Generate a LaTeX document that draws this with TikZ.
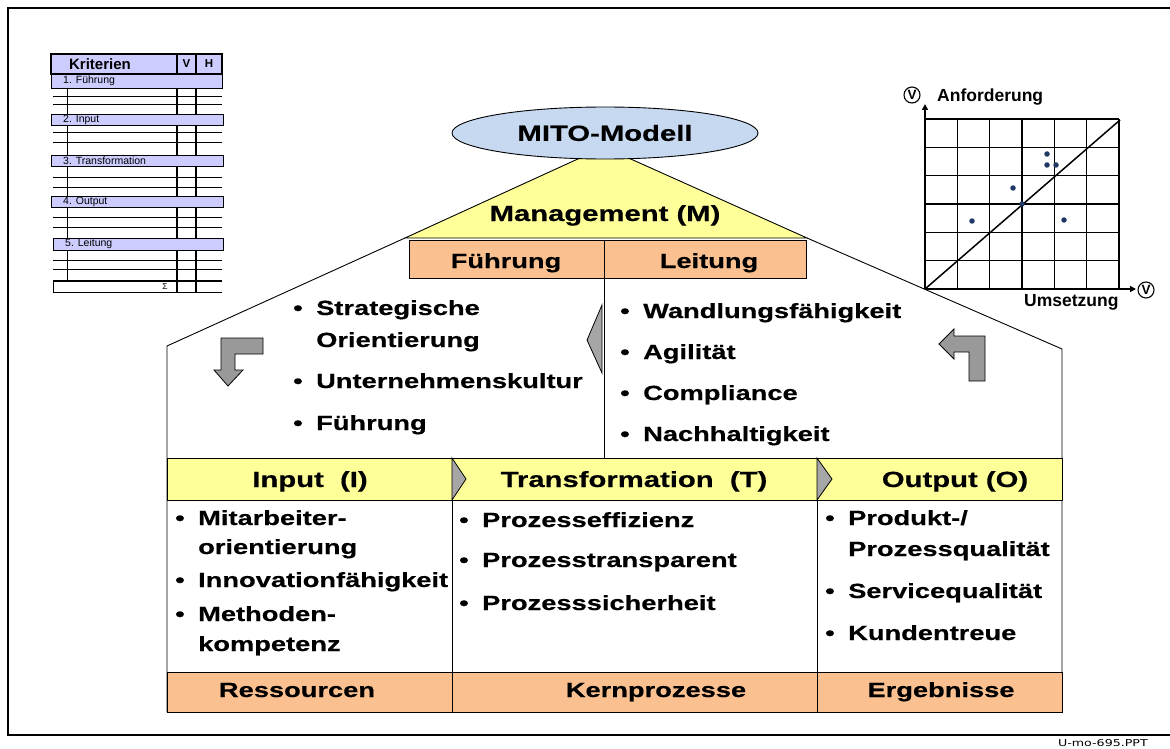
\documentclass[tikz,border=0pt]{standalone}
\usepackage{fontspec}
\setmainfont{Liberation Sans}
\newfontfamily\wb[FakeStretch=1.33,FakeBold=0.4]{Liberation Sans Bold}
\newfontfamily\dvw[FakeStretch=1.33]{DejaVu Sans}
\usetikzlibrary{arrows.meta,shapes.geometric}
\definecolor{myyel}{HTML}{FFFF99}
\definecolor{myorg}{HTML}{FAC090}
\definecolor{myblu}{HTML}{C6D9F1}
\definecolor{mylav}{HTML}{CCCCFF}
\definecolor{mygry}{HTML}{999999}
\definecolor{mychev}{HTML}{A6A6A6}
\definecolor{mydot}{HTML}{1F3864}
\newcommand{\mybul}{\makebox[23pt][l]{•}}
\newcommand{\myind}{\hspace*{23pt}}
\begin{document}
\begin{tikzpicture}[x=1pt,y=-1pt,line join=miter,
  thin line/.style={line width=0.9pt,draw=black},
  bl/.style={anchor=base west,inner sep=0pt,font=\wb\fontsize{20.5}{24}\selectfont},
  hd/.style={anchor=base,inner sep=0pt,font=\wb\fontsize{22}{26}\selectfont},
  sh/.style={anchor=base,inner sep=0pt,font=\wb\fontsize{20.5}{24}\selectfont},
  tb/.style={anchor=west,inner sep=0pt,font=\fontsize{10.5}{12}\selectfont},
  tbh/.style={anchor=center,inner sep=0pt,font=\bfseries\fontsize{15}{17}\selectfont},
  grd/.style={line width=1.1pt,draw=black},
  axis/.style={line width=1.8pt,-{Triangle[length=6pt,width=6pt]}},
  cv/.style={circle,draw,line width=1.1pt,inner sep=0pt,minimum size=16pt,font=\bfseries\fontsize{13.5}{14}\selectfont},
  chl/.style={anchor=base west,inner sep=0pt,font=\bfseries\fontsize{17.5}{20}\selectfont},
  dot/.style={circle,fill=mydot,inner sep=0pt,minimum size=5.5pt},
  gar/.style={fill=mygry,draw=black,line width=0.8pt},
  chev/.style={fill=mychev,draw=black,line width=0.8pt}
]
\useasboundingbox (0,0) rectangle (1170,749);
\clip (0,0) rectangle (1170,749);
\fill[white] (0,0) rectangle (1170,749);

% outer frame
\draw[line width=2.6pt] (1190,8) -- (8,8) -- (8,735) -- (1190,735);
\node[anchor=base east,inner sep=0pt,font=\dvw\fontsize{9.5}{10}\selectfont] (ref) at (1148,746) {U-mo-695.PPT};

% ---------- table top left ----------
\draw[line width=2pt] (177,54) -- (177,292) (196,54) -- (196,292);
\foreach \y in {97,105,133,143,177,187,217,227,260,269}
  \draw[line width=1pt] (53,\y) -- (222,\y);
\draw[line width=1.6pt] (53,281) -- (222,281);
\draw[line width=0.8pt] (53,292) -- (222,292) (53,281) -- (53,292);
\foreach \a/\b in {88/114,125/155,166/196,207/238,250/281}
  \draw[line width=1pt] (67,\a) -- (67,\b);
\filldraw[fill=mylav,line width=1.6pt] (51,54) rectangle (222,74);
\draw[line width=1.6pt] (177,54) -- (177,74) (196,54) -- (196,74);
\filldraw[fill=mylav,line width=0.8pt] (51,74) rectangle (222,88);
\filldraw[fill=mylav,line width=0.8pt] (51,114) rectangle (223,125);
\filldraw[fill=mylav,line width=0.8pt] (51,155) rectangle (223,166);
\filldraw[fill=mylav,line width=0.8pt] (51,196) rectangle (223,207);
\filldraw[fill=mylav,line width=0.8pt] (53,238) rectangle (223,250);
\node[tbh] (krit) at (100,64) {Kriterien};
\node[tbh,font=\bfseries\fontsize{11.5}{12}\selectfont] (colv) at (186.5,64) {V};
\node[tbh,font=\bfseries\fontsize{11.5}{12}\selectfont] (colh) at (209,64) {H};
\node[tb] (k1) at (63,81) {1. Führung};
\node[tb] (k2) at (63,119.5) {2. Input};
\node[tb] (k3) at (63,160.5) {3. Transformation};
\node[tb] (k4) at (63,201.5) {4. Output};
\node[tb] (k5) at (65,244) {5. Leitung};
\node[anchor=center,inner sep=0pt,font=\fontsize{8.5}{9}\selectfont] (sig) at (165,286.5) {Σ};

% ---------- chart top right ----------
\foreach \i in {1,...,6}
  \draw[grd] ({925+32.33*\i},119) -- ({925+32.33*\i},289);
\foreach \j in {0,...,5}
  \draw[grd] (925,{119+28.33*\j}) -- (1119,{119+28.33*\j});
\coordinate (O) at (925,289);
\coordinate (Ytip) at (925,104);
\coordinate (Xtip) at (1136,289);
\coordinate (Dend) at (1120,120);
\draw[line width=1.5pt] (O) -- (Dend);
\draw[axis] (O) -- (Ytip);
\draw[axis] (O) -- (Xtip);
\node[cv] (vy) at (912,95) {V};
\node[chl] (anf) at (937,101.5) {Anforderung};
\node[cv] (vx) at (1146,290) {V};
\node[chl] (ums) at (1024,306.5) {Umsetzung};
\foreach \p/\q [count=\k] in {1047/154,1047/165,1056/165,1013/188,1022/204,972/221,1064/220}
  \node[dot] (d\k) at (\p,\q) {};

% ---------- house ----------
\draw[thin line] (167,712) -- (167,346) -- (405,238);
\draw[thin line] (1062,712) -- (1062,349) -- (807,238);
\filldraw[fill=myyel,thin line] (604,147) -- (405,238) -- (807,238) -- cycle;
\node[ellipse,draw,line width=0.9pt,fill=myblu,minimum width=306pt,minimum height=52pt,inner sep=0pt,
      font=\wb\fontsize{22}{26}\selectfont] (mito) at (605,133) {MITO-Modell};
\node[hd] (mgmt) at (605,221) {Management (M)};

\filldraw[fill=myorg,thin line] (409,240) rectangle (806,278);
\draw[thin line] (604,240) -- (604,458);
\node[sh] (fuehr) at (506,268) {Führung};
\node[sh] (leit) at (709,268) {Leitung};

% bent arrows and pointer
\filldraw[gar] (263,338) -- (221,338) -- (221,370) -- (214,370) -- (228,386) -- (243,370) -- (235,370) -- (235,354) -- (263,354) -- cycle;
\filldraw[gar] (985,381) -- (985,336) -- (954,336) -- (954,329) -- (939,344) -- (954,359) -- (954,352) -- (969,352) -- (969,381) -- cycle;
\filldraw[chev] (602,305) -- (587,340) -- (602,373) -- cycle;

% upper bullet lists
\node[bl] (u1) at (293,315) {\mybul Strategische};
\node[bl] (u2) at (293,347) {\myind Orientierung};
\node[bl] (u3) at (293,388) {\mybul Unternehmenskultur};
\node[bl] (u4) at (293,430) {\mybul Führung};
\node[bl] (r1) at (620,318) {\mybul Wandlungsfähigkeit};
\node[bl] (r2) at (620,359) {\mybul Agilität};
\node[bl] (r3) at (620,400) {\mybul Compliance};
\node[bl] (r4) at (620,441) {\mybul Nachhaltigkeit};

% header band
\filldraw[fill=myyel,thin line] (167,458) rectangle (1062,500);
\draw[thin line] (452,458) -- (452,712) (817,458) -- (817,712);
\filldraw[chev] (452,458) -- (466,479) -- (452,500) -- cycle;
\filldraw[chev] (817,458) -- (832,479) -- (817,500) -- cycle;
\node[hd] (hin) at (310,487) {Input~~(I)};
\node[hd] (htr) at (634,487) {Transformation~~(T)};
\node[hd] (hout) at (955,487) {Output (O)};

% lower bullet lists
\node[bl] (i1) at (175,525) {\mybul Mitarbeiter-};
\node[bl] (i2) at (175,554) {\myind orientierung};
\node[bl] (i3) at (175,587) {\mybul Innovationfähigkeit};
\node[bl] (i4) at (175,621) {\mybul Methoden-};
\node[bl] (i5) at (175,651) {\myind kompetenz};
\node[bl] (t1) at (459,527) {\mybul Prozesseffizienz};
\node[bl] (t2) at (459,567) {\mybul Prozesstransparent};
\node[bl] (t3) at (459,610) {\mybul Prozesssicherheit};
\node[bl] (o1) at (825,525) {\mybul Produkt-/};
\node[bl] (o2) at (825,556) {\myind Prozessqualität};
\node[bl] (o3) at (825,598) {\mybul Servicequalität};
\node[bl] (o4) at (825,640) {\mybul Kundentreue};

% bottom band
\filldraw[fill=myorg,thin line] (167,672) rectangle (1062,712);
\draw[thin line] (452,672) -- (452,712) (817,672) -- (817,712);
\node[sh] (res) at (297,697) {Ressourcen};
\node[sh] (kern) at (656,697) {Kernprozesse};
\node[sh] (erg) at (941,697) {Ergebnisse};
\end{tikzpicture}
\end{document}
